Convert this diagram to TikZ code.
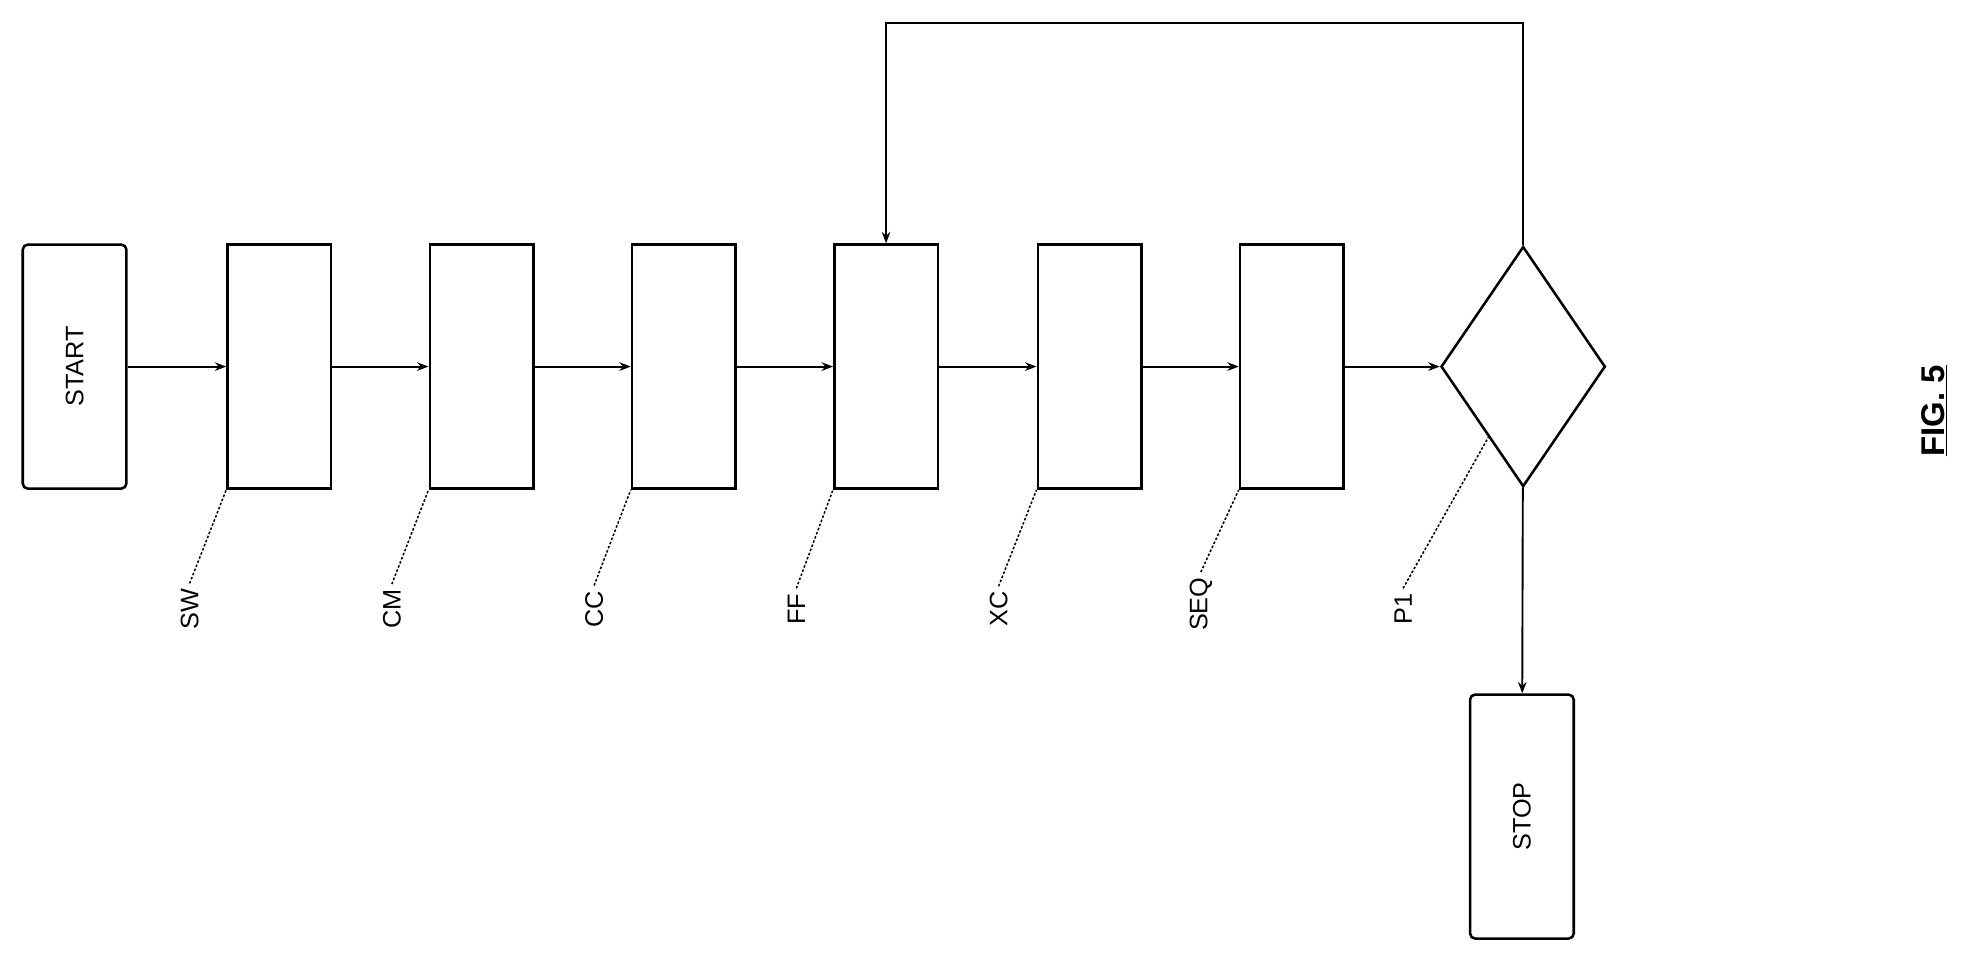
\documentclass[tikz,border=0pt]{standalone}
\usepackage{fontspec}
\setsansfont{Liberation Sans}
\usetikzlibrary{shapes.geometric,arrows.meta}

\begin{document}
\begin{tikzpicture}[x=1pt,y=-1pt,line width=2pt,
    font=\sffamily\fontsize{20}{24}\selectfont,
    every edge/.style={draw,-{Stealth[length=9pt]},line width=1.5pt}]

    \useasboundingbox (0,0) rectangle (1568,764);

    \begin{scope}[every node/.style={draw,rectangle,minimum width=82pt,minimum height=193pt,inner sep=0pt}]
        \node[rounded corners=4pt] (start) at (59,290) {\rotatebox{90}{START}};
        \node (sw) at (221,290) {};
        \node (cm) at (381,290) {};
        \node (cc) at (541,290) {};
        \node (ff) at (701,290) {};
        \node (xc) at (862,290) {};
        \node (seq) at (1022,290) {};
        \node[rounded corners=4pt] (stop) at (1204,646) {\rotatebox{90}{STOP}};
    \end{scope}
    \node[draw,diamond,minimum width=130pt,minimum height=190pt,inner sep=0pt,aspect=0.68] (p1) at (1205,290) {};
    \coordinate (top) at (1205,18);
    \coordinate (back) at (701,18);

    % main path %
    \path (start) edge (sw);
    \path (sw) edge (cm);
    \path (cm) edge (cc);
    \path (cc) edge (ff);
    \path (ff) edge (xc);
    \path (xc) edge (seq);
    \path (seq) edge (p1);
    \path (p1) edge (stop);
    \draw[line width=1.5pt,-{Stealth[length=9pt]}] (p1.north) -- (top) -- (back) -- (ff.north);

    % reference labels %
    \begin{scope}[every node/.style={rotate=90,anchor=center}]
        \node (lsw) at (150,482) {SW};
        \node (lcm) at (310,482) {CM};
        \node (lcc) at (470,482) {CC};
        \node (lff) at (630,482) {FF};
        \node (lxc) at (790,482) {XC};
        \node (lseq) at (950,478) {SEQ};
        \node (lp1) at (1110,482) {P1};
    \end{scope}
    \begin{scope}[line width=1.2pt,dash pattern=on 2pt off 1.5pt]
        \draw (lsw.east) -- (sw.south west);
        \draw (lcm.east) -- (cm.south west);
        \draw (lcc.east) -- (cc.south west);
        \draw (lff.east) -- (ff.south west);
        \draw (lxc.east) -- (xc.south west);
        \draw (lseq.east) -- (seq.south west);
        \draw (lp1.east) -- (1178,345);
    \end{scope}

    \node[rotate=90,font=\sffamily\bfseries\fontsize{26}{30}\selectfont] (fig) at (1530,325) {\underline{FIG. 5}};

\end{tikzpicture}
\end{document}
